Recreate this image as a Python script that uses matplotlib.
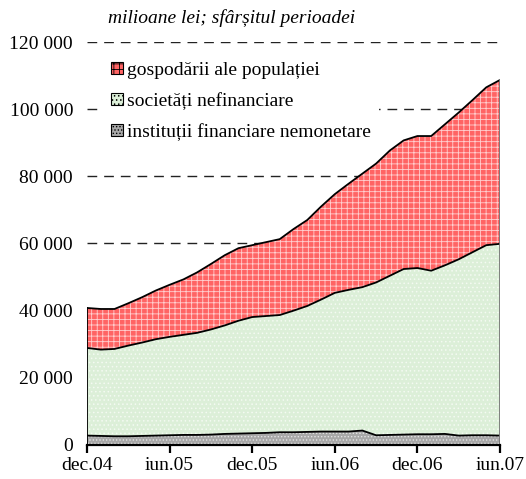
import numpy as np
import matplotlib
matplotlib.use("Agg")
import matplotlib.pyplot as plt
from matplotlib.patches import Patch
from matplotlib.ticker import FuncFormatter

plt.rcParams['font.family'] = ['Liberation Serif', 'DejaVu Serif']
plt.rcParams['hatch.linewidth'] = 0.6

# lunar, dec.04 - iun.07 (milioane lei)
luni = ["dec.04", "iun.05", "dec.05", "iun.06", "dec.06", "iun.07"]
institutii = [2800, 2700, 2600, 2600, 2700, 2800, 2900, 3000, 3000, 3100, 3300,
              3400, 3500, 3600, 3800, 3800, 3900, 4000, 4000, 4000, 4300, 2900,
              3000, 3100, 3200, 3200, 3300, 2800, 2900, 2900, 2800]
societati = [26100, 25700, 26000, 27000, 27800, 28700, 29300, 29800, 30400, 31300,
             32300, 33600, 34600, 34800, 34900, 36200, 37500, 39300, 41300, 42200,
             42700, 45500, 47400, 49300, 49500, 48700, 50200, 52500, 54500, 56600,
             57100]
gospodarii = [11900, 12100, 11900, 12600, 13500, 14500, 15500, 16500, 18000, 19500,
              20900, 21600, 21400, 22000, 22600, 24300, 25600, 27700, 29400, 31600,
              33800, 35400, 37300, 38300, 39300, 40100, 42000, 43700, 45300, 47000,
              48800]

x = np.arange(len(institutii))
b1 = np.array(institutii)
b2 = b1 + np.array(societati)
b3 = b2 + np.array(gospodarii)

fig = plt.figure(figsize=(5.26, 4.79), dpi=100)
ax = fig.add_axes([0.1654, 0.0710, 0.7852, 0.8413])

for v in range(20000, 120001, 20000):
    ax.axhline(v, color='#222222', lw=1.0, ls=(0, (7, 5)), zorder=0)

ax.fill_between(x, 0, b1, facecolor='#a8a8a8', edgecolor='#e4e4e4', hatch='.....', lw=0, zorder=1)
ax.fill_between(x, b1, b2, facecolor='#dcefd8', edgecolor='#f4faf2', hatch='....', lw=0, zorder=1)
ax.fill_between(x, b2, b3, facecolor='#ff6464', edgecolor='#ffd0d0', hatch='+++', lw=0, zorder=1)

for top in (b1, b2, b3):
    ax.plot(x, top, color='black', lw=1.3, zorder=3)
ax.plot([0, 0], [0, b3[0]], color='black', lw=1.3, zorder=3)
ax.plot([x[-1], x[-1]], [0, b3[-1]], color='#777777', lw=1.3, zorder=3)

ax.set_xlim(0, 30)
ax.set_ylim(0, 120000)
ax.set_xticks(np.arange(0, 31, 6))
ax.set_xticklabels(luni)
ax.set_yticks(range(0, 120001, 20000))
ax.yaxis.set_major_formatter(FuncFormatter(lambda v, p: f"{int(v):,}".replace(",", " ")))
for s in ("top", "right", "left"):
    ax.spines[s].set_visible(False)
ax.spines["bottom"].set_linewidth(1.6)
ax.spines["bottom"].set_zorder(4)
ax.tick_params(axis='x', length=6, width=1.6, labelsize=14, pad=3)
ax.tick_params(axis='y', length=0, labelsize=14, pad=10)

handles = [
    Patch(facecolor='#ff6464', edgecolor='black', hatch='+++', lw=0.8, label='gospodării ale populației'),
    Patch(facecolor='#dcefd8', edgecolor='black', hatch='....', lw=0.8, label='societăți nefinanciare'),
    Patch(facecolor='#a8a8a8', edgecolor='black', hatch='.....', lw=0.8, label='instituții financiare nemonetare'),
]
leg = ax.legend(handles=handles, loc='upper left', bbox_to_anchor=(0.04, 0.97), frameon=True,
                fontsize=14, handlelength=0.6, handleheight=0.6, handletextpad=0.2,
                labelspacing=0.68, borderaxespad=0, borderpad=0.4, fancybox=False,
                facecolor='white', edgecolor='none', framealpha=1)

fig.text(0.205, 0.962, "milioane lei; sfârșitul perioadei", style='italic', fontsize=14,
         ha='left', va='center')

fig.savefig("out.png", dpi=100)
